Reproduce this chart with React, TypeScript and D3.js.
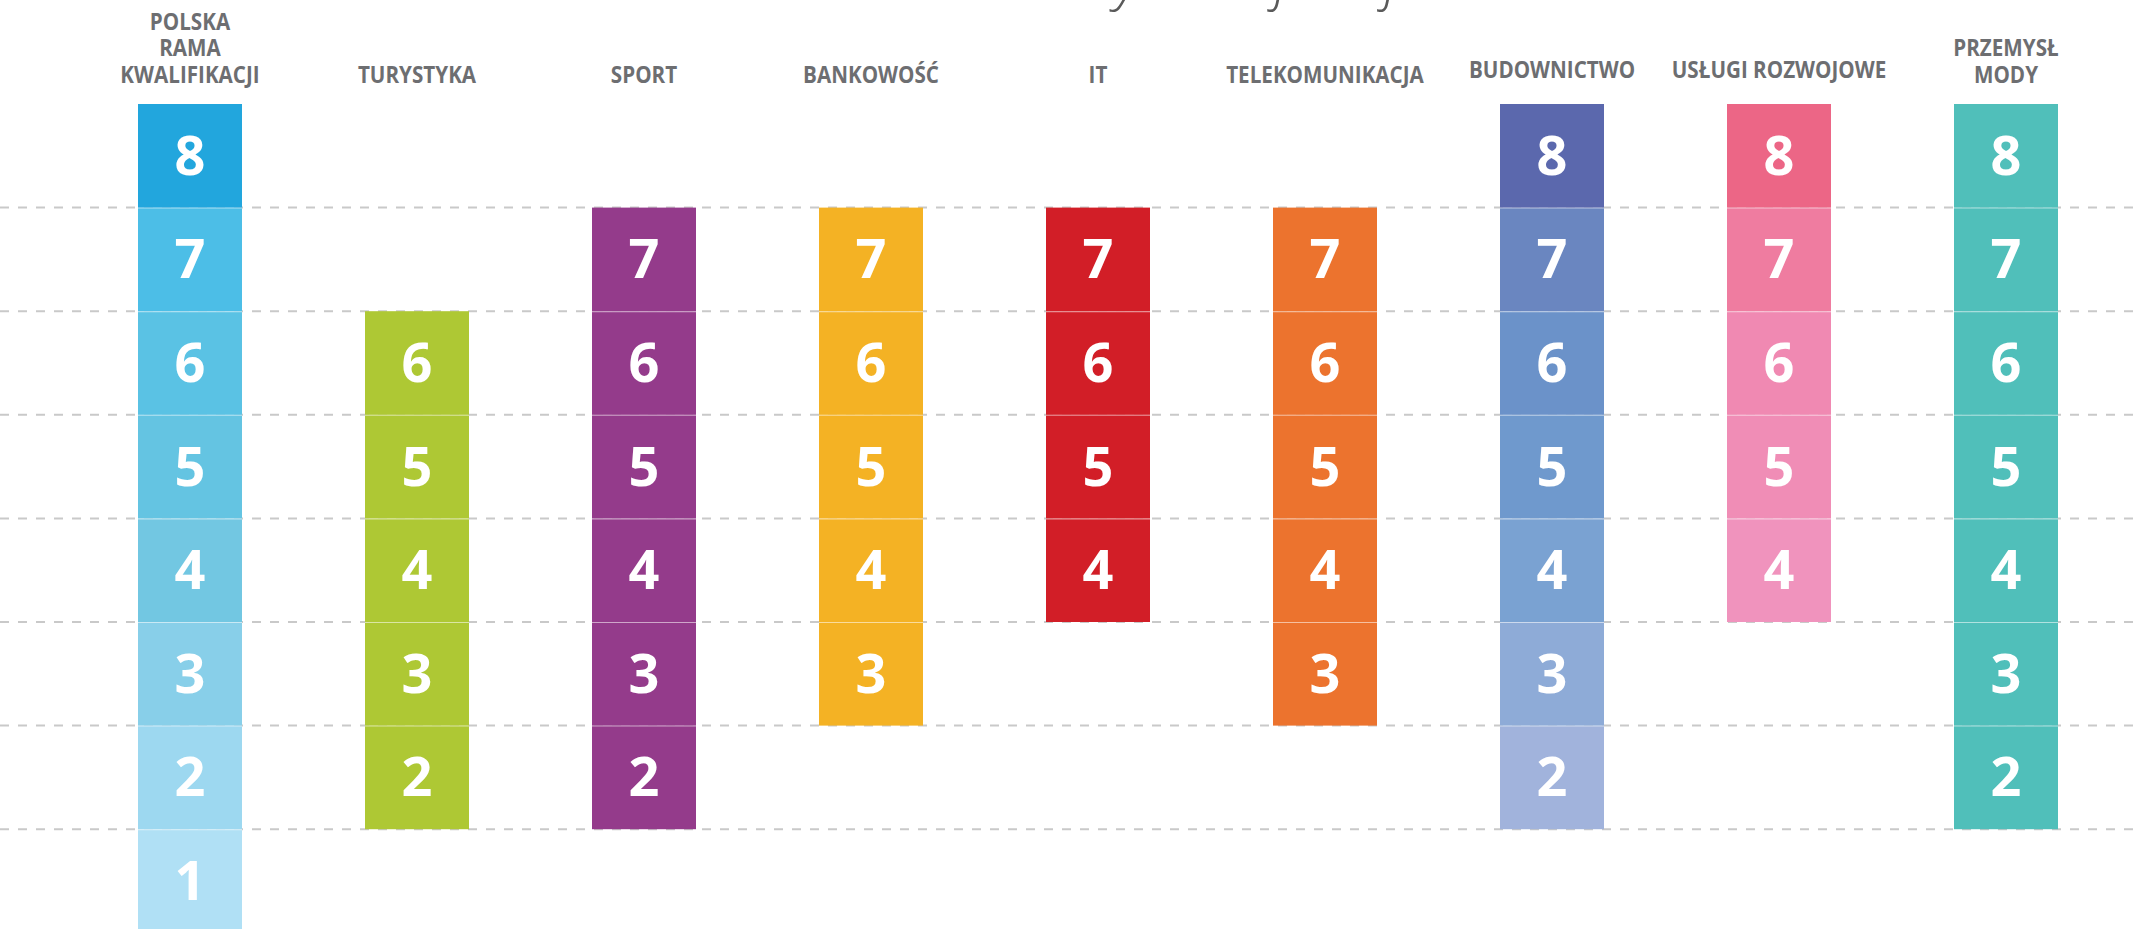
import React from 'react';
import * as d3 from 'd3';

// sectors and the range of qualification levels each one covers
const sectors = [
  'POLSKA RAMA KWALIFIKACJI',
  'TURYSTYKA',
  'SPORT',
  'BANKOWOŚĆ',
  'IT',
  'TELEKOMUNIKACJA',
  'BUDOWNICTWO',
  'USŁUGI ROZWOJOWE',
  'PRZEMYSŁ MODY',
];
const minLevel = [1, 2, 2, 3, 4, 3, 2, 4, 2];
const maxLevel = [8, 6, 7, 7, 7, 7, 8, 8, 8];

// header lines for each sector
const headerLines = [
  ['POLSKA', 'RAMA', 'KWALIFIKACJI'],
  ['TURYSTYKA'],
  ['SPORT'],
  ['BANKOWOŚĆ'],
  ['IT'],
  ['TELEKOMUNIKACJA'],
  ['BUDOWNICTWO'],
  ['USŁUGI ROZWOJOWE'],
  ['PRZEMYSŁ', 'MODY'],
];

const levels = [1, 2, 3, 4, 5, 6, 7, 8];
const titleText = 'Sektorowe ramy kwalifikacji';

// colours, level 8 first
const palettes: Record<string, string[]> = {
  'POLSKA RAMA KWALIFIKACJI': ['#22a6dd', '#4cbee7', '#5ac2e4', '#64c4e2', '#72c7e2', '#88cfe9', '#9dd8f0', '#b0e0f5'],
  'TURYSTYKA': ['#aec834'],
  'SPORT': ['#943b8b'],
  'BANKOWOŚĆ': ['#f4b224'],
  'IT': ['#d21e27'],
  'TELEKOMUNIKACJA': ['#ec732e'],
  'BUDOWNICTWO': ['#5b68ad', '#6a86c0', '#6b92c9', '#6f99cd', '#7aa2d2', '#8eabd7', '#a1b3dc'],
  'USŁUGI ROZWOJOWE': ['#ec6686', '#ef7ca0', '#f089b2', '#f08db6', '#f093bd'],
  'PRZEMYSŁ MODY': ['#50bfba'],
};

const cellColor = (sector: string, level: number) => {
  const p = palettes[sector];
  return p[Math.min(8 - level, p.length - 1)];
};

const App = () => {
  const width = 2136;
  const height = 929;
  const colW = 104;

  const xScale = d3.scalePoint<string>()
    .domain(sectors)
    .range([190, 2006]);

  // level n occupies y from yScale(n) to yScale(n - 1)
  const yScale = d3.scaleLinear()
    .domain([8, 0])
    .range([104, 104 + 8 * 103.6]);

  const gridLevels = levels.filter(l => l < 8);

  return (
    <svg
      width={width}
      height={height}
      viewBox={`0 0 ${width} ${height}`}
      style={{ position: 'absolute', left: 0, top: 0, display: 'block', background: '#fff' }}
    >
      {/* title, almost all of it above the frame */}
      <text
        x={1410}
        y={-1}
        textAnchor='end'
        fontFamily='"Open Sans", sans-serif'
        fontStyle='italic'
        fontWeight={300}
        fontSize={56}
        fill='#5a5a5a'
      >
        {titleText}
      </text>

      {/* dashed level guides */}
      {gridLevels.map(l => (
        <line
          key={`g${l}`}
          x1={0}
          x2={width}
          y1={yScale(l)}
          y2={yScale(l)}
          stroke='#c9c9c9'
          strokeWidth={2}
          strokeDasharray='9 9'
        />
      ))}

      {sectors.map((s, i) => {
        const cx = xScale(s) as number;
        const lines = headerLines[i];
        const cells = levels.filter(l => l >= minLevel[i] && l <= maxLevel[i]);
        const baseY = i === 6 || i === 7 ? 78 : 83;
        return (
          <g key={s}>
            <g transform={`translate(${cx},0) scale(0.86,1)`}>
              {lines.map((t, j) => (
                <text
                  key={t}
                  x={0}
                  y={baseY - (lines.length - 1 - j) * 26.5}
                  textAnchor='middle'
                  fontFamily='"Open Sans", sans-serif'
                  fontWeight={700}
                  fontSize={24}
                  fill='#6d6e71'
                >
                  {t}
                </text>
              ))}
            </g>
            {cells.map(l => {
              const y0 = yScale(l);
              const y1 = yScale(l - 1);
              return (
                <g key={l}>
                  <rect
                    x={cx - colW / 2}
                    y={y0}
                    width={colW}
                    height={y1 - y0}
                    fill={cellColor(s, l)}
                  />
                  {l < maxLevel[i] && (
                    <line
                      x1={cx - colW / 2}
                      x2={cx + colW / 2}
                      y1={y0}
                      y2={y0}
                      stroke='#fff'
                      strokeOpacity={0.55}
                      strokeWidth={2}
                    />
                  )}
                  <text
                    x={cx}
                    y={(y0 + y1) / 2 + 19}
                    textAnchor='middle'
                    fontFamily='"Open Sans", sans-serif'
                    fontWeight={700}
                    fontSize={54}
                    fill='#fff'
                  >
                    {l}
                  </text>
                </g>
              );
            })}
          </g>
        );
      })}
    </svg>
  );
};

export default App;
